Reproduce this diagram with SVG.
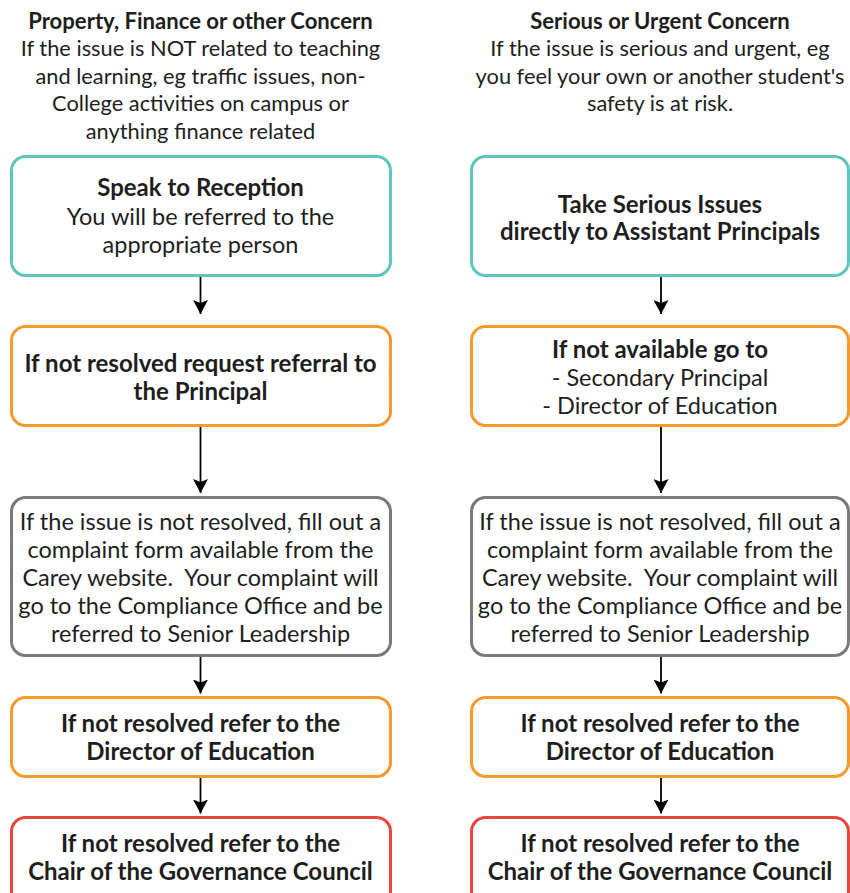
<svg xmlns="http://www.w3.org/2000/svg" width="850" height="893" viewBox="0 0 850 893">
  <style>
    text { font-family: Lato, "Open Sans", "Liberation Sans", sans-serif; fill: #1e1e1e; text-anchor: middle; }
    .h { font-size: 21.8px; }
    .hb { font-size: 22.1px; font-weight: bold; }
    .t { font-size: 23.5px; }
    .tb { font-size: 24px; font-weight: bold; }
    .box { fill: #fff; stroke-width: 3; }
    .teal { stroke: #5ec6bf; }
    .orange { stroke: #f79a2e; }
    .grey { stroke: #7a7a7a; }
    .red { stroke: #e8463d; }
    .conn { stroke: #000; stroke-width: 1.8; fill: none; }
  </style>
  <defs>
    <!-- notched arrowhead, drawn pointing along +x; tip at the line end -->
    <marker id="arrow" viewBox="0 0 14 15" refX="14" refY="7.5" markerWidth="14" markerHeight="15" markerUnits="userSpaceOnUse" orient="auto">
      <path d="M0,0 L14,7.5 L0,15 L3,7.5 Z" fill="#000"/>
    </marker>
  </defs>
  <rect width="850" height="893" fill="#fff"/>

  <!-- column headings -->
  <g id="heading-left">
    <text x="200.5" y="28.5" class="hb">Property, Finance or other Concern</text>
    <text x="200.5" y="56" class="h">If the issue is NOT related to teaching</text>
    <text x="200.5" y="83.5" class="h">and learning, eg traffic issues, non-</text>
    <text x="200.5" y="111" class="h">College activities on campus or</text>
    <text x="200.5" y="138.5" class="h">anything finance related</text>
  </g>
  <g id="heading-right">
    <text x="660" y="28.5" class="hb">Serious or Urgent Concern</text>
    <text x="660" y="56" class="h">If the issue is serious and urgent, eg</text>
    <text x="660" y="83.5" class="h">you feel your own or another student's</text>
    <text x="660" y="111" class="h">safety is at risk.</text>
  </g>

  <!-- left column -->
  <g id="reception">
    <rect class="box teal" x="11.5" y="156.5" width="379" height="119" rx="14"/>
    <text x="200.5" y="196" class="tb">Speak to Reception</text>
    <text x="200.5" y="224.5" class="t">You will be referred to the</text>
    <text x="200.5" y="252.5" class="t">appropriate person</text>
  </g>
  <g id="principal">
    <rect class="box orange" x="11.5" y="326.5" width="379" height="99" rx="14"/>
    <text x="200.5" y="372" class="tb">If not resolved request referral to</text>
    <text x="200.5" y="400" class="tb">the Principal</text>
  </g>
  <g id="complaint-left">
    <rect class="box grey" x="11.5" y="497.5" width="379" height="158" rx="14"/>
    <text x="200.5" y="530" class="t">If the issue is not resolved, fill out a</text>
    <text x="200.5" y="558" class="t">complaint form available from the</text>
    <text x="200.5" y="586" class="t">Carey website.&#160; Your complaint will</text>
    <text x="200.5" y="614" class="t">go to the Compliance Office and be</text>
    <text x="200.5" y="642" class="t">referred to Senior Leadership</text>
  </g>
  <g id="director-left">
    <rect class="box orange" x="11.5" y="697.5" width="379" height="79" rx="14"/>
    <text x="200.5" y="732" class="tb">If not resolved refer to the</text>
    <text x="200.5" y="760" class="tb">Director of Education</text>
  </g>
  <g id="chair-left">
    <rect class="box red" x="11.5" y="817.5" width="379" height="95" rx="14"/>
    <text x="200.5" y="852" class="tb">If not resolved refer to the</text>
    <text x="200.5" y="880" class="tb">Chair of the Governance Council</text>
  </g>

  <!-- right column -->
  <g id="assistant-principals">
    <rect class="box teal" x="471.5" y="156.5" width="377" height="119" rx="14"/>
    <text x="660" y="212.5" class="tb">Take Serious Issues</text>
    <text x="660" y="240" class="tb">directly to Assistant Principals</text>
  </g>
  <g id="not-available">
    <rect class="box orange" x="471.5" y="326.5" width="377" height="99" rx="14"/>
    <text x="660" y="358" class="tb">If not available go to</text>
    <text x="660" y="386" class="t">- Secondary Principal</text>
    <text x="660" y="414" class="t">- Director of Education</text>
  </g>
  <g id="complaint-right">
    <rect class="box grey" x="471.5" y="497.5" width="377" height="158" rx="14"/>
    <text x="660" y="530" class="t">If the issue is not resolved, fill out a</text>
    <text x="660" y="558" class="t">complaint form available from the</text>
    <text x="660" y="586" class="t">Carey website.&#160; Your complaint will</text>
    <text x="660" y="614" class="t">go to the Compliance Office and be</text>
    <text x="660" y="642" class="t">referred to Senior Leadership</text>
  </g>
  <g id="director-right">
    <rect class="box orange" x="471.5" y="697.5" width="377" height="79" rx="14"/>
    <text x="660" y="732" class="tb">If not resolved refer to the</text>
    <text x="660" y="760" class="tb">Director of Education</text>
  </g>
  <g id="chair-right">
    <rect class="box red" x="471.5" y="817.5" width="377" height="95" rx="14"/>
    <text x="660" y="852" class="tb">If not resolved refer to the</text>
    <text x="660" y="880" class="tb">Chair of the Governance Council</text>
  </g>

  <!-- connectors -->
  <g id="connectors" class="conn">
    <line x1="200.5" y1="277" x2="200.5" y2="314" marker-end="url(#arrow)"/>
    <line x1="200.5" y1="427" x2="200.5" y2="493" marker-end="url(#arrow)"/>
    <line x1="200.5" y1="657" x2="200.5" y2="693.5" marker-end="url(#arrow)"/>
    <line x1="200.5" y1="778" x2="200.5" y2="813.5" marker-end="url(#arrow)"/>
    <line x1="661" y1="277" x2="661" y2="314" marker-end="url(#arrow)"/>
    <line x1="661" y1="427" x2="661" y2="493" marker-end="url(#arrow)"/>
    <line x1="661" y1="657" x2="661" y2="693.5" marker-end="url(#arrow)"/>
    <line x1="661" y1="778" x2="661" y2="813.5" marker-end="url(#arrow)"/>
  </g>
</svg>
